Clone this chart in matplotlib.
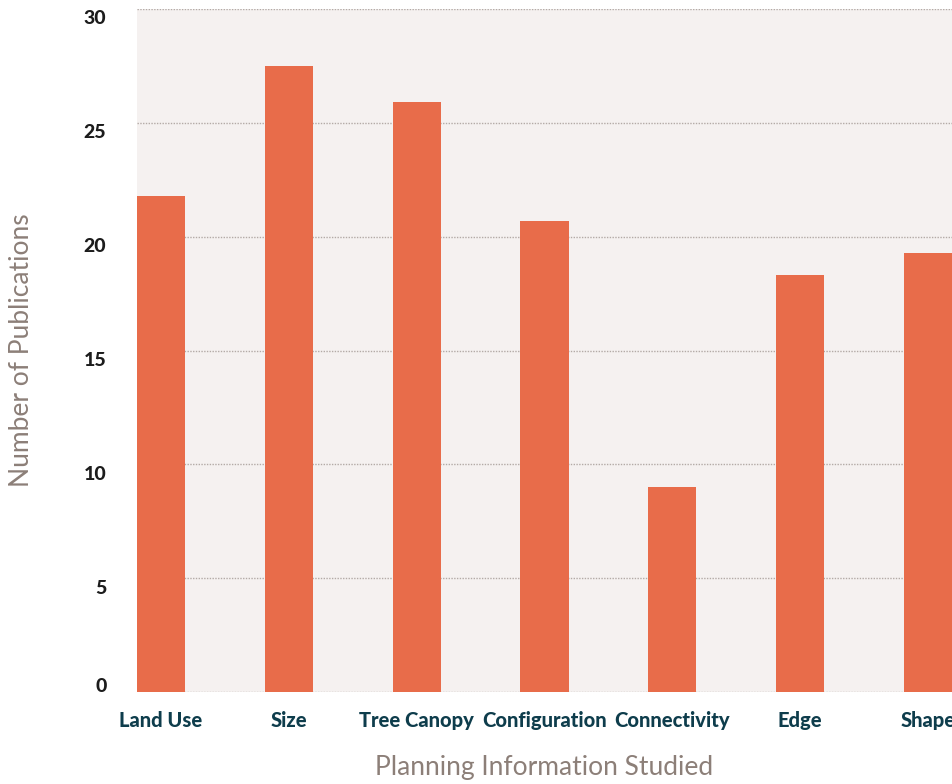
import numpy as np
import matplotlib.pyplot as plt
from matplotlib.transforms import ScaledTranslation

# ------------------ DATA ------------------
categories = ["Land Use", "Size", "Tree Canopy", "Configuration",
              "Connectivity", "Edge", "Shape"]
publications = [21.8, 27.5, 25.9, 20.7, 9.0, 18.3, 19.3]
y_ticks = [0, 5, 10, 15, 20, 25, 30]

bar_color = "#E86C4A"
bg_color = "#F5F1F0"

# ------------------ FIGURE ------------------
fig = plt.figure(figsize=(9.52, 7.84), dpi=100)
ax = fig.add_axes([137 / 952, 1 - 692 / 784, 815 / 952, 683 / 784])
ax.set_facecolor(bg_color)

x = np.arange(len(categories))
ax.bar(x, publications, width=0.376, color=bar_color, zorder=3)

ax.set_xlim(-0.188, len(categories) - 1 + 0.188)
ax.set_ylim(0, 30)

# dotted horizontal grid behind the bars
ax.set_yticks(y_ticks)
ax.yaxis.grid(True, linestyle=(0, (1, 1)), color="#b3aaa6", linewidth=1.0, zorder=0)
ax.set_axisbelow(True)

for s in ax.spines.values():
    s.set_visible(False)

ax.tick_params(axis="both", length=0)
ax.tick_params(axis="y", pad=22)
ax.tick_params(axis="x", pad=14)

ax.set_yticklabels([str(v) for v in y_ticks], fontfamily="Lato",
                   fontweight="black", fontsize=14, color="#1c1c1c")
ax.set_xticks(x)
ax.set_xticklabels(categories, fontfamily="Lato", fontweight="black",
                   fontsize=14.5, color="#0e3d4c")

# nudge y tick labels a little below their gridlines, the 0 label above
for lab, v in zip(ax.get_yticklabels(), y_ticks):
    dy = 5 / 72 if v == 0 else -6 / 72
    lab.set_transform(lab.get_transform() + ScaledTranslation(0, dy, fig.dpi_scale_trans))

fig.text(22 / 952, 1 - 350 / 784, "Number of Publications", rotation=90,
         ha="center", va="center", fontfamily="Lato", fontsize=19,
         color="#8c7f78")
fig.text(544 / 952, 1 - 768 / 784, "Planning Information Studied",
         ha="center", va="center", fontfamily="Lato", fontsize=19,
         color="#8c7f78")

fig.savefig("out.png", dpi=100, facecolor="white")
